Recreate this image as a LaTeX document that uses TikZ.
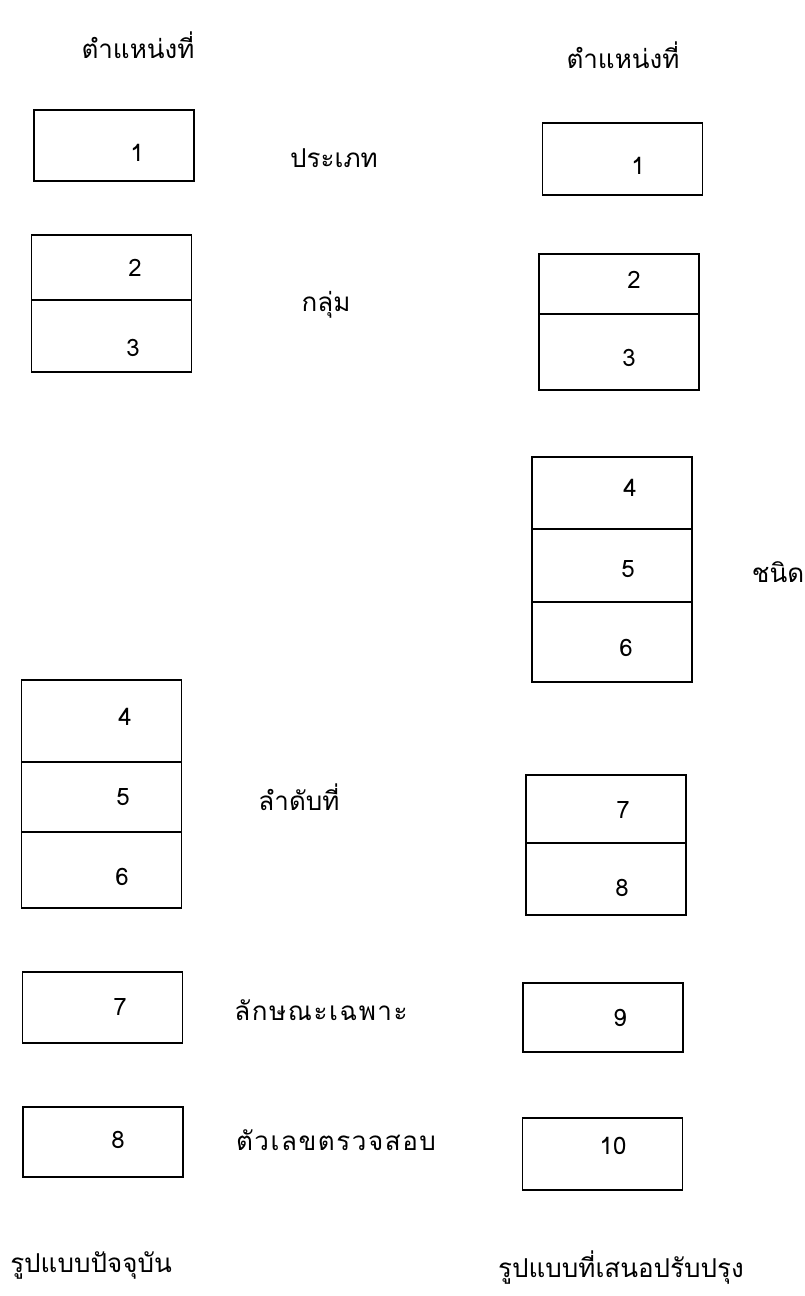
\documentclass[tikz,border=0pt]{standalone}
\usepackage{fontspec}
\newfontfamily\thaifont[Script=Thai]{Loma}
\newfontfamily\thaiwide[Script=Thai,LetterSpace=6]{Loma}
\begin{document}
\begin{tikzpicture}[x=1pt,y=-1pt,
  cell/.style={draw, line width=1.6pt, inner sep=0pt, outer sep=0pt, minimum width=160pt},
  num/.style={font=\thaifont\fontsize{24}{28}\selectfont, inner sep=0pt},
  lbl/.style={font=\thaifont\fontsize{26}{30}\selectfont, inner sep=0pt},
  wlbl/.style={font=\thaiwide\fontsize{26}{30}\selectfont, inner sep=0pt}]
\useasboundingbox (0,0) rectangle (805,1296);
\fill[white] (0,0) rectangle (805,1296);
% headers
\node[lbl] (hL) at (138,45) {ตำแหน่งที่};
\node[lbl] (hR) at (623,55) {ตำแหน่งที่};
% left column (current form)
\node[cell, minimum height=71pt] (L1) at (114,145.5) {};
\node[cell, minimum height=65pt] (L2) at (111.5,267.5) {};
\node[cell, minimum height=72pt] (L3) at (111.5,336) {};
\node[cell, minimum height=82pt] (L4) at (101.5,721) {};
\node[cell, minimum height=70pt] (L5) at (101.5,797) {};
\node[cell, minimum height=76pt] (L6) at (101.5,870) {};
\node[cell, minimum height=71pt] (L7) at (102.5,1007.5) {};
\node[cell, minimum height=70pt] (L8) at (103,1142) {};
\node[num] (nL1) at (137,153) {1};
\node[num] (nL2) at (135,268) {2};
\node[num] (nL3) at (133,348) {3};
\node[num] (nL4) at (125,717) {4};
\node[num] (nL5) at (123,797) {5};
\node[num] (nL6) at (122,877) {6};
\node[num] (nL7) at (120,1007) {7};
\node[num] (nL8) at (118,1140) {8};
% middle labels
\node[lbl] (t1) at (334,158) {ประเภท};
\node[lbl] (t2) at (326,305) {กลุ่ม};
\node[lbl] (t3) at (299,797) {ลำดับที่};
\node[wlbl] (t4) at (321,1010) {ลักษณะเฉพาะ};
\node[wlbl] (t5) at (336,1140) {ตัวเลขตรวจสอบ};
\node[lbl] (t6) at (778,572) {ชนิด};
% right column (proposed form)
\node[cell, minimum height=72pt] (R1) at (622.5,159) {};
\node[cell, minimum height=60pt] (R2) at (619,284) {};
\node[cell, minimum height=76pt] (R3) at (619,352) {};
\node[cell, minimum height=72pt] (R4) at (612,493) {};
\node[cell, minimum height=73pt] (R5) at (612,565.5) {};
\node[cell, minimum height=80pt] (R6) at (612,642) {};
\node[cell, minimum height=68pt] (R7) at (606,809) {};
\node[cell, minimum height=72pt] (R8) at (606,879) {};
\node[cell, minimum height=69pt] (R9) at (603,1017.5) {};
\node[cell, minimum height=72pt] (R10) at (602.5,1154) {};
\node[num] (nR1) at (638,166) {1};
\node[num] (nR2) at (634,280) {2};
\node[num] (nR3) at (629,358) {3};
\node[num] (nR4) at (630,488) {4};
\node[num] (nR5) at (628,569) {5};
\node[num] (nR6) at (626,648) {6};
\node[num] (nR7) at (623,810) {7};
\node[num] (nR8) at (622,888) {8};
\node[num] (nR9) at (620,1018) {9};
\node[num] (nR10) at (613,1146) {10};
% captions
\node[lbl] (cL) at (91,1265) {รูปแบบปัจจุบัน};
\node[lbl] (cR) at (621,1268) {รูปแบบที่เสนอปรับปรุง};
\end{tikzpicture}
\end{document}
